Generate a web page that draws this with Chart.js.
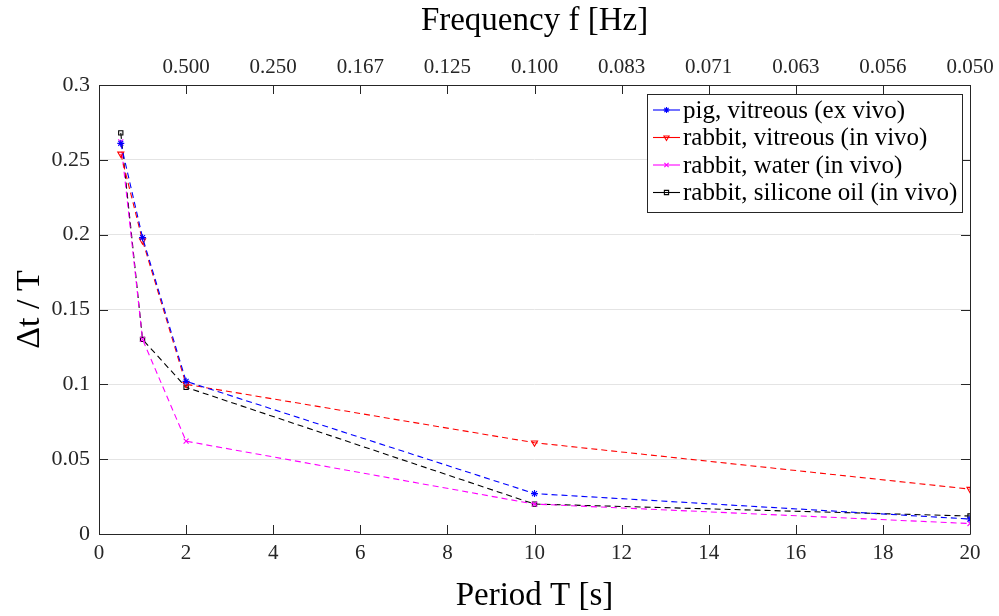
<!DOCTYPE html>
<html>
<head>
<meta charset="utf-8">
<script src="https://cdn.jsdelivr.net/npm/chart.js@4.4.1/dist/chart.umd.min.js"></script>
<style>
html,body{margin:0;padding:0;background:#fff;}
#wrap{width:999px;height:616px;position:relative;}
</style>
</head>
<body>
<div id="wrap"><canvas id="c" width="999" height="616"></canvas></div>
<script>
const periods = [0.5, 1, 2, 10, 20];
const pigVitreous = [0.261, 0.198, 0.102, 0.027, 0.010];
const rabbitVitreous = [0.254, 0.196, 0.100, 0.061, 0.030];
const rabbitWater = [0.262, 0.130, 0.062, 0.020, 0.007];
const rabbitSilicone = [0.268, 0.130, 0.098, 0.020, 0.012];
const seriesNames = ['pig, vitreous (ex vivo)', 'rabbit, vitreous (in vivo)', 'rabbit, water (in vivo)', 'rabbit, silicone oil (in vivo)'];
const xTickValues = [0, 2, 4, 6, 8, 10, 12, 14, 16, 18, 20];
const yTickLabels = ['0', '0.05', '0.1', '0.15', '0.2', '0.25', '0.3'];
const topTickPeriods = [2, 4, 6, 8, 10, 12, 14, 16, 18, 20];
const topTickLabels = ['0.500', '0.250', '0.167', '0.125', '0.100', '0.083', '0.071', '0.063', '0.056', '0.050'];

const FONT = "'Liberation Serif', 'Times New Roman', serif";
const AX = '#262626';

function pts(vals){ return periods.map((p,i)=>({x:p,y:vals[i]})); }

function ds(label, vals, color, style, rot){
  return {
    label, data: pts(vals), borderColor: color, backgroundColor: 'rgba(0,0,0,0)',
    borderWidth: 1.1, borderDash: [6,4], pointStyle: style, pointRotation: rot||0,
    pointRadius: 3.5, pointBorderWidth: 1.1, pointBorderColor: color,
    pointBackgroundColor: 'rgba(0,0,0,0)', tension: 0, fill: false, xAxisID: 'x', yAxisID: 'y'
  };
}

const datasets = [
  ds(seriesNames[0], pigVitreous, '#0000ff', 'star', 0),
  ds(seriesNames[1], rabbitVitreous, '#ff0000', 'triangle', 180),
  ds(seriesNames[2], rabbitWater, '#ff00ff', 'crossRot', 0),
  ds(seriesNames[3], rabbitSilicone, '#000000', 'rect', 0),
];
datasets[3].pointRadius = 3;

const frameTicks = {
  id: 'frameTicks',
  afterDatasetsDraw(chart){
    const ctx = chart.ctx, a = chart.chartArea;
    const xs = chart.scales.x, ys = chart.scales.y;
    ctx.save();
    ctx.strokeStyle = AX; ctx.lineWidth = 1;
    ctx.beginPath();
    ctx.rect(Math.round(a.left)+0.5, Math.round(a.top)+0.5, Math.round(a.right-a.left), Math.round(a.bottom-a.top));
    ctx.stroke();
    const L = 9;
    ctx.beginPath();
    xTickValues.forEach(v=>{
      const px = Math.round(xs.getPixelForValue(v))+0.5;
      ctx.moveTo(px, a.bottom); ctx.lineTo(px, a.bottom-L);
    });
    topTickPeriods.forEach(v=>{
      const px = Math.round(xs.getPixelForValue(v))+0.5;
      ctx.moveTo(px, a.top); ctx.lineTo(px, a.top+L);
    });
    yTickLabels.forEach((t)=>{
      const py = Math.round(ys.getPixelForValue(parseFloat(t)))+0.5;
      ctx.moveTo(a.left, py); ctx.lineTo(a.left+L, py);
      ctx.moveTo(a.right, py); ctx.lineTo(a.right-L, py);
    });
    ctx.stroke();
    ctx.restore();
  },
  afterDraw(chart){
    const ctx = chart.ctx;
    const bx = 647, by = 94, bw = 315, bh = 118;
    ctx.save();
    ctx.fillStyle = '#fff';
    ctx.fillRect(bx, by, bw, bh);
    ctx.strokeStyle = AX; ctx.lineWidth = 1;
    ctx.strokeRect(bx+0.5, by+0.5, bw, bh);
    ctx.textBaseline = 'middle';
    chart.data.datasets.forEach((d,i)=>{
      const y = by + 16 + i*27.5;
      ctx.strokeStyle = d.borderColor; ctx.lineWidth = 1.1;
      ctx.setLineDash([]);
      ctx.beginPath(); ctx.moveTo(bx+6, y); ctx.lineTo(bx+33, y); ctx.stroke();
      ctx.fillStyle = 'rgba(0,0,0,0)';
      ctx.strokeStyle = d.borderColor;
      Chart.helpers.drawPoint(ctx, {pointStyle: d.pointStyle, rotation: d.pointRotation, radius: 3, borderWidth: 1.1}, bx+19.5, y);
      ctx.fillStyle = '#000';
      ctx.font = '25px ' + FONT;
      ctx.fillText(d.label, bx+36, y+1);
    });
    ctx.restore();
  }
};

new Chart(document.getElementById('c'), {
  type: 'line',
  data: { datasets },
  plugins: [frameTicks],
  options: {
    responsive: false, animation: false, devicePixelRatio: 1,
    layout: { padding: { left: 0, right: 29, top: 0, bottom: 0 } },
    plugins: { legend: { display: false }, tooltip: { enabled: false } },
    scales: {
      x: {
        type: 'linear', position: 'bottom', min: 0, max: 20,
        afterBuildTicks: s => { s.ticks = xTickValues.map(v=>({value:v})); },
        ticks: { color: AX, font: { family: FONT, size: 21 }, padding: 7, maxRotation: 0,
          callback: v => String(v) },
        grid: { display: false, drawTicks: false },
        border: { display: false },
        title: { display: true, text: 'Period T [s]', color: '#000', font: { family: FONT, size: 33 }, padding: { top: 2, bottom: 0 } },
        afterFit: s => { s.height = 82; }
      },
      x2: {
        type: 'linear', position: 'top', min: 0, max: 20,
        afterBuildTicks: s => { s.ticks = topTickPeriods.map(v=>({value:v})); },
        ticks: { color: AX, font: { family: FONT, size: 21 }, padding: 5, maxRotation: 0,
          callback: (v) => { const i = topTickPeriods.indexOf(v); return i >= 0 ? topTickLabels[i] : ''; } },
        grid: { display: false, drawTicks: false },
        border: { display: false },
        title: { display: true, text: 'Frequency f [Hz]', color: '#000', font: { family: FONT, size: 33 }, padding: { top: 2, bottom: 4 } },
        afterFit: s => { s.height = 85; }
      },
      y: {
        type: 'linear', min: 0, max: 0.3,
        afterBuildTicks: s => { s.ticks = yTickLabels.map(t=>({value: parseFloat(t)})); },
        ticks: { color: AX, font: { family: FONT, size: 22 }, padding: 9,
          callback: (v) => { const i = yTickLabels.findIndex(t=>Math.abs(parseFloat(t)-v)<1e-9); return i>=0 ? yTickLabels[i] : ''; } },
        grid: { display: true, color: '#e4e4e4', lineWidth: 1, drawTicks: false },
        border: { display: false },
        title: { display: true, text: 'Δt / T', color: '#000', font: { family: FONT, size: 34 }, padding: { top: 10, bottom: 4 } },
        afterFit: s => { s.width = 99; }
      }
    }
  }
});
</script>
</body>
</html>
